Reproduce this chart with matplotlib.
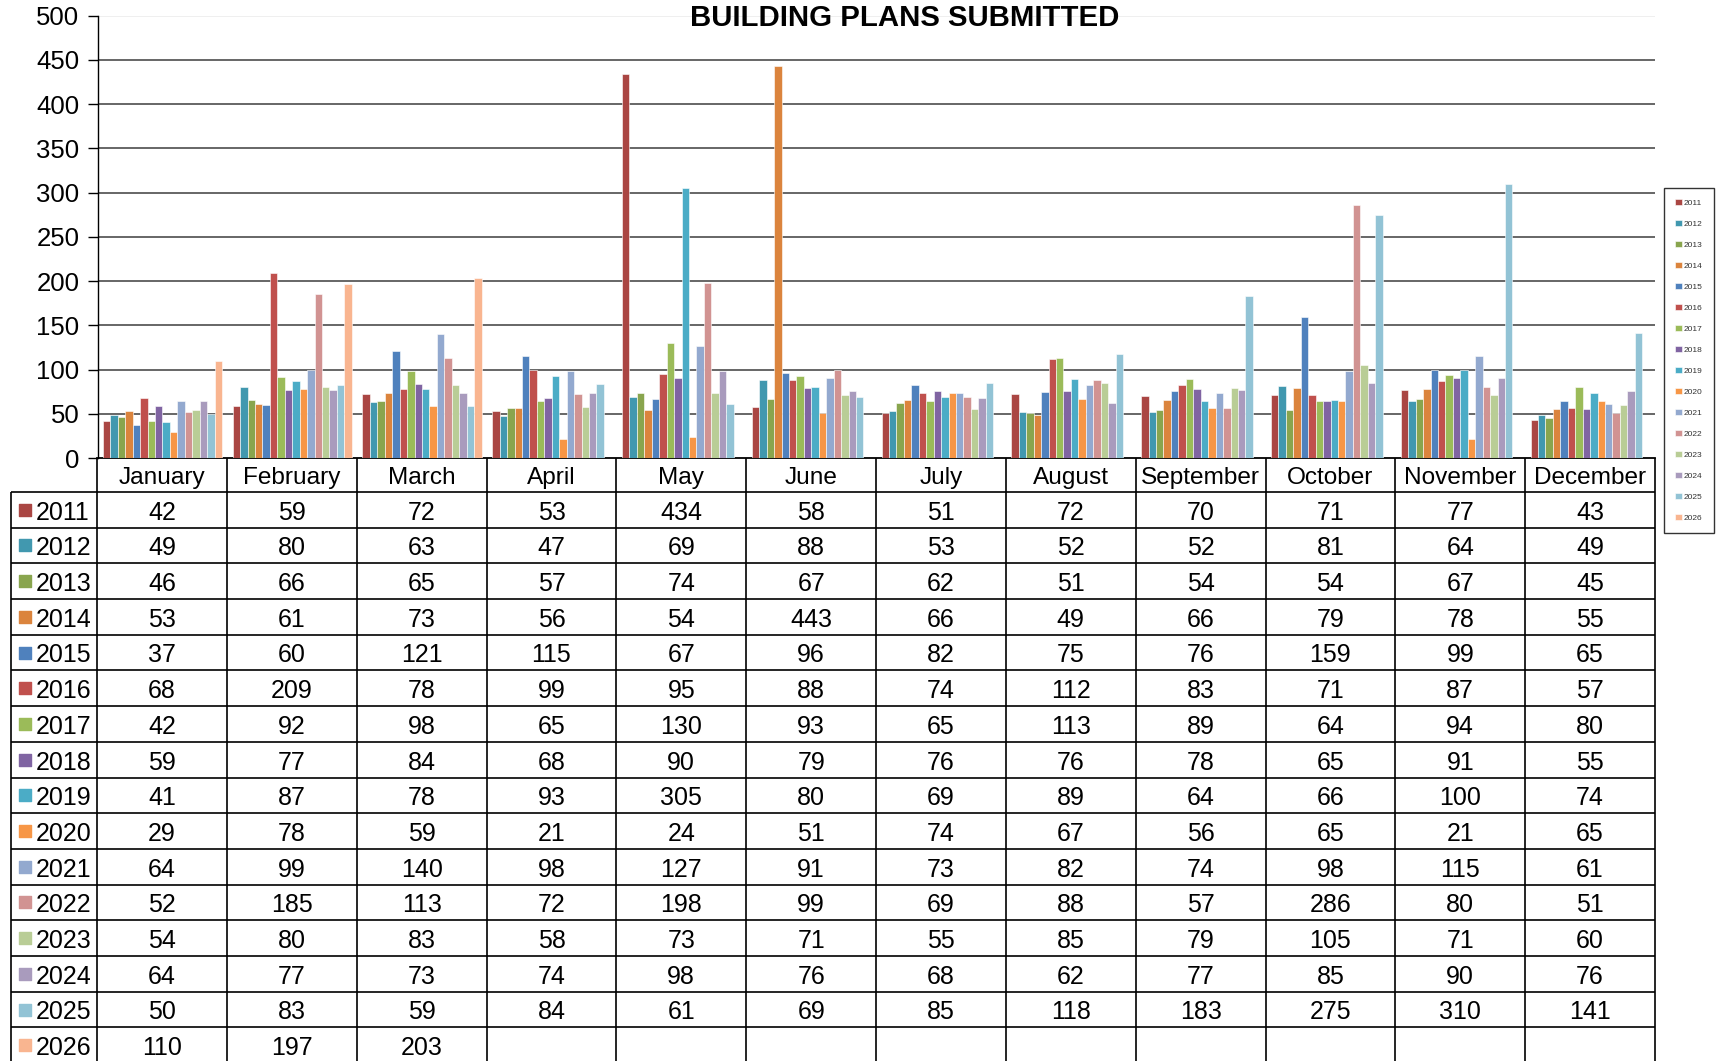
import numpy as np
import matplotlib
matplotlib.use('Agg')
import matplotlib.pyplot as plt

plt.rcParams['font.family'] = ['Liberation Sans', 'DejaVu Sans']

months = ['January', 'February', 'March', 'April', 'May', 'June', 'July',
          'August', 'September', 'October', 'November', 'December']
years = ['2011', '2012', '2013', '2014', '2015', '2016', '2017', '2018',
         '2019', '2020', '2021', '2022', '2023', '2024', '2025', '2026']

# plans submitted per month, one list per year
v2011 = [42, 59, 72, 53, 434, 58, 51, 72, 70, 71, 77, 43]
v2012 = [49, 80, 63, 47, 69, 88, 53, 52, 52, 81, 64, 49]
v2013 = [46, 66, 65, 57, 74, 67, 62, 51, 54, 54, 67, 45]
v2014 = [53, 61, 73, 56, 54, 443, 66, 49, 66, 79, 78, 55]
v2015 = [37, 60, 121, 115, 67, 96, 82, 75, 76, 159, 99, 65]
v2016 = [68, 209, 78, 99, 95, 88, 74, 112, 83, 71, 87, 57]
v2017 = [42, 92, 98, 65, 130, 93, 65, 113, 89, 64, 94, 80]
v2018 = [59, 77, 84, 68, 90, 79, 76, 76, 78, 65, 91, 55]
v2019 = [41, 87, 78, 93, 305, 80, 69, 89, 64, 66, 100, 74]
v2020 = [29, 78, 59, 21, 24, 51, 74, 67, 56, 65, 21, 65]
v2021 = [64, 99, 140, 98, 127, 91, 73, 82, 74, 98, 115, 61]
v2022 = [52, 185, 113, 72, 198, 99, 69, 88, 57, 286, 80, 51]
v2023 = [54, 80, 83, 58, 73, 71, 55, 85, 79, 105, 71, 60]
v2024 = [64, 77, 73, 74, 98, 76, 68, 62, 77, 85, 90, 76]
v2025 = [50, 83, 59, 84, 61, 69, 85, 118, 183, 275, 310, 141]
v2026 = [110, 197, 203]

data = [v2011, v2012, v2013, v2014, v2015, v2016, v2017, v2018,
        v2019, v2020, v2021, v2022, v2023, v2024, v2025, v2026]

colors = ['#AA4643', '#4198AF', '#89A54E', '#DB843D', '#4F81BD', '#C0504D',
          '#9BBB59', '#8064A2', '#4BACC6', '#F79646', '#93A9CF', '#D19392',
          '#B9CD96', '#A99BBD', '#92C3D5', '#F9B590']

W, H = 1718, 1061
fig = plt.figure(figsize=(W / 100, H / 100), dpi=100)

# chart area
ax = fig.add_axes([97.5 / W, 1 - 458 / H, (1655 - 97.5) / W, (458 - 15.7) / H])
ax.set_xlim(-0.5, 11.5)
ax.set_ylim(0, 500)

n = len(years)
bw = 0.918 / n
for i, (yr, vals) in enumerate(zip(years, data)):
    x = np.arange(len(vals)) + (i - (n - 1) / 2) * bw
    ax.bar(x, vals, width=bw, color=colors[i], edgecolor='white',
           linewidth=0.4, label=yr, zorder=3)

ax.set_yticks(range(0, 501, 50))
ax.yaxis.grid(True, color='#5a5a5a', linewidth=1.3)
ax.get_ygridlines()[-1].set_color('#eeeeee')
ax.get_ygridlines()[0].set_visible(False)
ax.set_axisbelow(True)
ax.tick_params(axis='y', length=7, width=1, labelsize=18.5, pad=6)
ax.tick_params(axis='x', length=0, labelbottom=False)
for s in ['top', 'right']:
    ax.spines[s].set_visible(False)
ax.spines['left'].set_linewidth(1.0)
ax.spines['bottom'].set_linewidth(1.3)

fig.text(905 / W, 1 - 18.5 / H, 'BUILDING PLANS SUBMITTED', ha='center',
         va='center', fontsize=21.2, weight='bold')

# legend
leg = fig.legend(loc='upper left', bbox_to_anchor=(1664 / W, 1 - 188 / H),
                 fontsize=6, handlelength=0.8, handleheight=0.8,
                 handletextpad=0.3, labelspacing=1.55, borderaxespad=0,
                 borderpad=1.3, fancybox=False, edgecolor='black',
                 labelcolor='#333333')
leg.get_frame().set_linewidth(1.0)

# data table below the chart
tab = fig.add_axes([11 / W, 0, (1655 - 11) / W, (1061 - 458) / H])
x_left = -0.5 - 86 / 129.7
tab.set_xlim(x_left, 11.5)
tab.set_ylim(15.94, -0.95)
tab.axis('off')

tab.vlines(np.arange(-0.5, 12.0, 1), -0.95, 16, color='black', lw=1.2, clip_on=False)
tab.vlines(x_left, 0, 16, color='black', lw=1.2, clip_on=False)
tab.hlines(np.arange(0, 17), x_left, 11.5, color='black', lw=1.2, clip_on=False)

for j, m in enumerate(months):
    tab.text(j, -0.4, m, ha='center', va='center', fontsize=17.6)

for i, (yr, vals) in enumerate(zip(years, data)):
    tab.scatter([x_left + 13.5 / 129.7], [i + 0.5], marker='s', s=80,
                color=colors[i], clip_on=False)
    tab.text(x_left + 25 / 129.7, i + 0.58, yr, ha='left', va='center', fontsize=18)
    for j, v in enumerate(vals):
        tab.text(j, i + 0.58, str(v), ha='center', va='center', fontsize=18)

fig.savefig('out.png', dpi=100)
